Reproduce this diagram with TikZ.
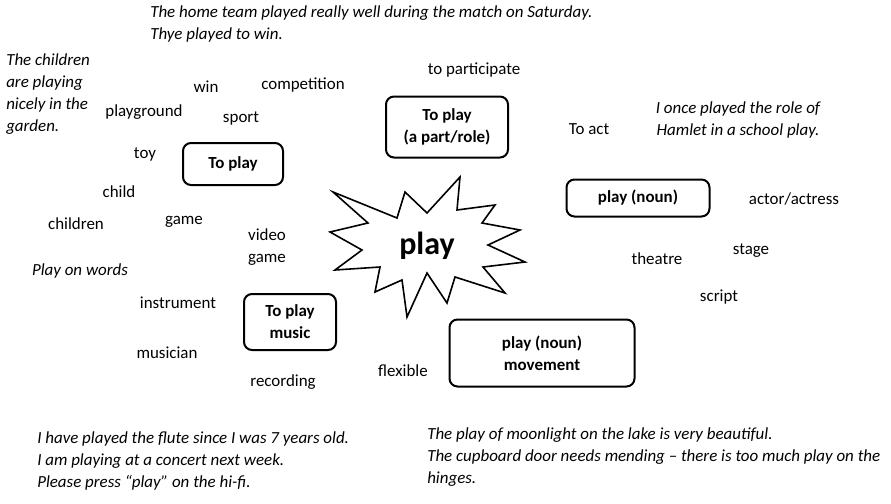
\documentclass[tikz,border=0pt]{standalone}
\usepackage{fontspec}
\setmainfont{Carlito}
\begin{document}
\begin{tikzpicture}[
    x=0.75pt, y=-0.75pt,
    word/.style={font=\fontsize{12.7}{16.5}\selectfont, inner sep=0pt},
    example/.style={font=\fontsize{12.7}{16.5}\selectfont\itshape, inner sep=0pt, align=left, anchor=north west},
    sense_box/.style={draw, line width=1.5pt, rounded corners=6pt, font=\fontsize{12.7}{16.5}\selectfont\bfseries, align=center}
]
    \useasboundingbox (0,0) rectangle (891,503);
    % centre star
    \draw[line width=1.2pt, line join=miter, fill=white]
        (333,192) -- (368,223) -- (330,232) -- (362,250) -- (335,270) -- (380,267)
        -- (375,292) -- (402,280) -- (407,317) -- (427,273) -- (447,303) -- (455,277)
        -- (505,293) -- (483,267) -- (525,262) -- (488,245) -- (520,230) -- (482,223)
        -- (495,205) -- (457,210) -- (460,177) -- (427,213) -- (405,192) -- (397,218) -- cycle;
    \node[font=\fontsize{24}{26}\selectfont\bfseries] (centre) at (427,246) {play};
    % boxes
    \node[sense_box, minimum width=100*0.75pt, minimum height=42*0.75pt] (toplay) at (233,164) {To play};
    \node[sense_box, minimum width=122*0.75pt, minimum height=61*0.75pt] (role) at (447,127) {To play\\(a part/role)};
    \node[sense_box, minimum width=143*0.75pt, minimum height=37*0.75pt] (noun) at (638,198) {play (noun)};
    \node[sense_box, minimum width=92*0.75pt, minimum height=56*0.75pt] (music) at (290,322) {To play\\music};
    \node[sense_box, minimum width=185*0.75pt, minimum height=67*0.75pt] (movement) at (542,353) {play (noun)\\movement};
    % words
    \node[word] (win) at (206,87) {win};
    \node[word] (competition) at (303,85) {competition};
    \node[word] (participate) at (474,70) {to participate};
    \node[word] (playground) at (144,112) {playground};
    \node[word] (sport) at (241,119) {sport};
    \node[word] (toy) at (145,155) {toy};
    \node[word] (child) at (119,192) {child};
    \node[word] (children) at (76,224) {children};
    \node[word] (game) at (184,222) {game};
    \node[word, align=center] (videogame) at (267,247) {video\\game};
    \node[word, font=\fontsize{12.7}{16.5}\selectfont\itshape] (onwords) at (80,271) {Play on words};
    \node[word] (instrument) at (178,303) {instrument};
    \node[word] (musician) at (167,353) {musician};
    \node[word] (recording) at (283,382) {recording};
    \node[word] (flexible) at (403,371) {flexible};
    \node[word] (toact) at (589,129) {To act};
    \node[word] (actor) at (794,199) {actor/actress};
    \node[word] (stage) at (751,251) {stage};
    \node[word] (theatre) at (657,259) {theatre};
    \node[word] (script) at (719,297) {script};
    % example sentences
    \node[example] (team) at (150,5) {The home team played really well during the match on Saturday.\\Thye played to win.};
    \node[example] (garden) at (6,53) {The children\\are playing\\nicely in the\\garden.};
    \node[example, align=center, anchor=north] (hamlet) at (738,101) {I once played the role of\\Hamlet in a school play.};
    \node[example] (flute) at (37,431) {I have played the flute since I was 7 years old.\\I am playing at a concert next week.\\Please press “play” on the hi-fi.};
    \node[example] (moonlight) at (427,427) {The play of moonlight on the lake is very beautiful.\\The cupboard door needs mending – there is too much play on the\\hinges.};
\end{tikzpicture}
\end{document}
